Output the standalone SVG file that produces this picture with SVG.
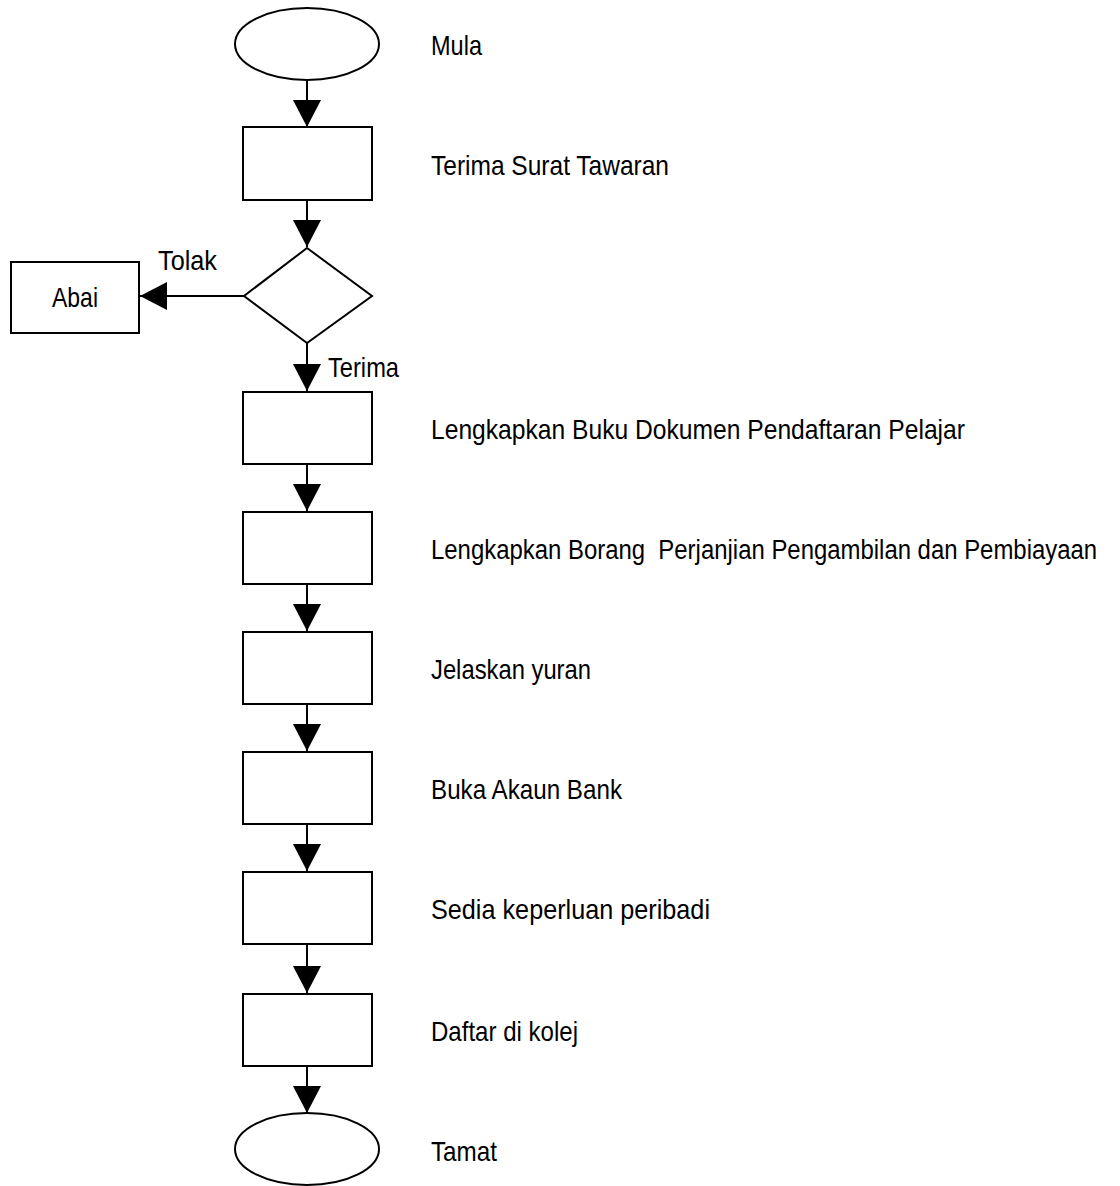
<svg xmlns="http://www.w3.org/2000/svg" width="1120" height="1186" viewBox="0 0 1120 1186">
<style>
.s{fill:#fff;stroke:#000;stroke-width:2}
.c{fill:none;stroke:#000;stroke-width:2}
.t{font-family:"Liberation Sans",Arial,sans-serif;font-size:28px;fill:#000}
</style>
<defs>
<marker id="ah" markerUnits="userSpaceOnUse" markerWidth="28" markerHeight="28" refX="27" refY="14" orient="auto" viewBox="0 0 28 28">
<path d="M0,0 L27,14 L0,28 z" fill="#000"/>
</marker>
</defs>
<rect width="1120" height="1186" fill="#fff"/>
<g id="connectors">
<line class="c" x1="307" y1="80" x2="307" y2="127" marker-end="url(#ah)"/>
<line class="c" x1="307" y1="200" x2="307" y2="247" marker-end="url(#ah)"/>
<line class="c" x1="244" y1="296" x2="140" y2="296" marker-end="url(#ah)"/>
<line class="c" x1="307" y1="343" x2="307" y2="391" marker-end="url(#ah)"/>
<line class="c" x1="307" y1="464" x2="307" y2="511" marker-end="url(#ah)"/>
<line class="c" x1="307" y1="584" x2="307" y2="631" marker-end="url(#ah)"/>
<line class="c" x1="307" y1="704" x2="307" y2="751" marker-end="url(#ah)"/>
<line class="c" x1="307" y1="824" x2="307" y2="871" marker-end="url(#ah)"/>
<line class="c" x1="307" y1="944" x2="307" y2="993" marker-end="url(#ah)"/>
<line class="c" x1="307" y1="1066" x2="307" y2="1113" marker-end="url(#ah)"/>
<text class="t" x="158" y="270" textLength="59" lengthAdjust="spacingAndGlyphs">Tolak</text>
<text class="t" x="328" y="377" textLength="71" lengthAdjust="spacingAndGlyphs">Terima</text>
</g>
<g id="mula">
<ellipse class="s" cx="307" cy="44" rx="72" ry="36"/>
<text class="t" x="431" y="55" textLength="51" lengthAdjust="spacingAndGlyphs">Mula</text>
</g>
<g id="terima-surat">
<rect class="s" x="243" y="127" width="129" height="73"/>
<text class="t" x="431" y="175" textLength="238" lengthAdjust="spacingAndGlyphs">Terima Surat Tawaran</text>
</g>
<g id="keputusan">
<polygon class="s" points="307,248 372,296 307,343 244,296"/>
</g>
<g id="abai">
<rect class="s" x="11" y="262" width="128" height="71"/>
<text class="t" x="52" y="307" textLength="46" lengthAdjust="spacingAndGlyphs">Abai</text>
</g>
<g id="buku-dokumen">
<rect class="s" x="243" y="392" width="129" height="72"/>
<text class="t" x="431" y="439" textLength="534" lengthAdjust="spacingAndGlyphs">Lengkapkan Buku Dokumen Pendaftaran Pelajar</text>
</g>
<g id="borang">
<rect class="s" x="243" y="512" width="129" height="72"/>
<text class="t" transform="translate(431,559) scale(0.84,1)" x="0" y="0" textLength="793" lengthAdjust="spacingAndGlyphs" xml:space="preserve">Lengkapkan Borang  Perjanjian Pengambilan dan Pembiayaan</text>
</g>
<g id="yuran">
<rect class="s" x="243" y="632" width="129" height="72"/>
<text class="t" x="431" y="679" textLength="160" lengthAdjust="spacingAndGlyphs">Jelaskan yuran</text>
</g>
<g id="akaun-bank">
<rect class="s" x="243" y="752" width="129" height="72"/>
<text class="t" x="431" y="799" textLength="191" lengthAdjust="spacingAndGlyphs">Buka Akaun Bank</text>
</g>
<g id="keperluan">
<rect class="s" x="243" y="872" width="129" height="72"/>
<text class="t" x="431" y="919" textLength="279" lengthAdjust="spacingAndGlyphs">Sedia keperluan peribadi</text>
</g>
<g id="daftar">
<rect class="s" x="243" y="994" width="129" height="72"/>
<text class="t" x="431" y="1041" textLength="147" lengthAdjust="spacingAndGlyphs">Daftar di kolej</text>
</g>
<g id="tamat">
<ellipse class="s" cx="307" cy="1149" rx="72" ry="36"/>
<text class="t" x="431" y="1161" textLength="66" lengthAdjust="spacingAndGlyphs">Tamat</text>
</g>
</svg>
